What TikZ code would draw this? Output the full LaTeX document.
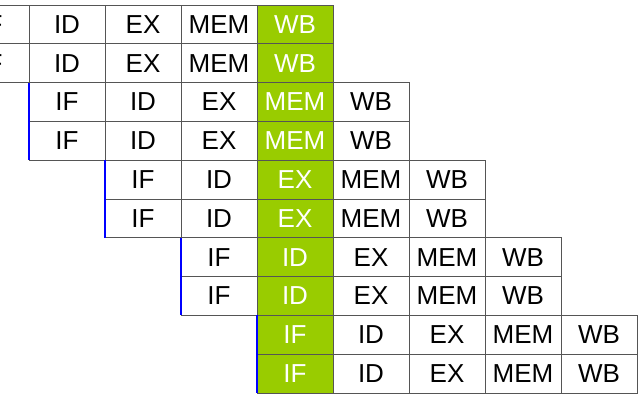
\documentclass[tikz,border=0pt]{standalone}
\usepackage{fontspec}
\setmainfont{Liberation Sans}
\definecolor{stagegreen}{HTML}{99CC00}
\definecolor{gridgray}{HTML}{555555}
\begin{document}
\begin{tikzpicture}[x=1pt,y=-1pt,
  cell/.style={draw=gridgray, line width=0.8pt, minimum width=76pt, minimum height=38.8pt,
    inner sep=0pt, outer sep=0pt, anchor=north west, font=\fontsize{26}{30}\selectfont},
  leftedge/.style={draw=blue, line width=1.6pt}]
\useasboundingbox (0,0) rectangle (640,400);
\foreach \r in {1,...,10} {
  \pgfmathtruncatemacro{\p}{(\r-1)/2}
  \foreach \lab [count=\k from 0] in {IF,ID,EX,MEM,WB} {
    \pgfmathtruncatemacro{\c}{\p+\k}
    \ifnum\c=4 \def\fillc{stagegreen}\def\textc{white}\else\def\fillc{white}\def\textc{black}\fi
    \node[cell, fill=\fillc, text=\textc] (r\r c\c) at ({-47+76*\c},{5+38.8*(\r-1)}) {\lab};
  }
}
\draw[leftedge] (r3c1.north west) -- (r4c1.south west);
\draw[leftedge] (r5c2.north west) -- (r6c2.south west);
\draw[leftedge] (r7c3.north west) -- (r8c3.south west);
\draw[leftedge] (r9c4.north west) -- (r10c4.south west);
\end{tikzpicture}
\end{document}
